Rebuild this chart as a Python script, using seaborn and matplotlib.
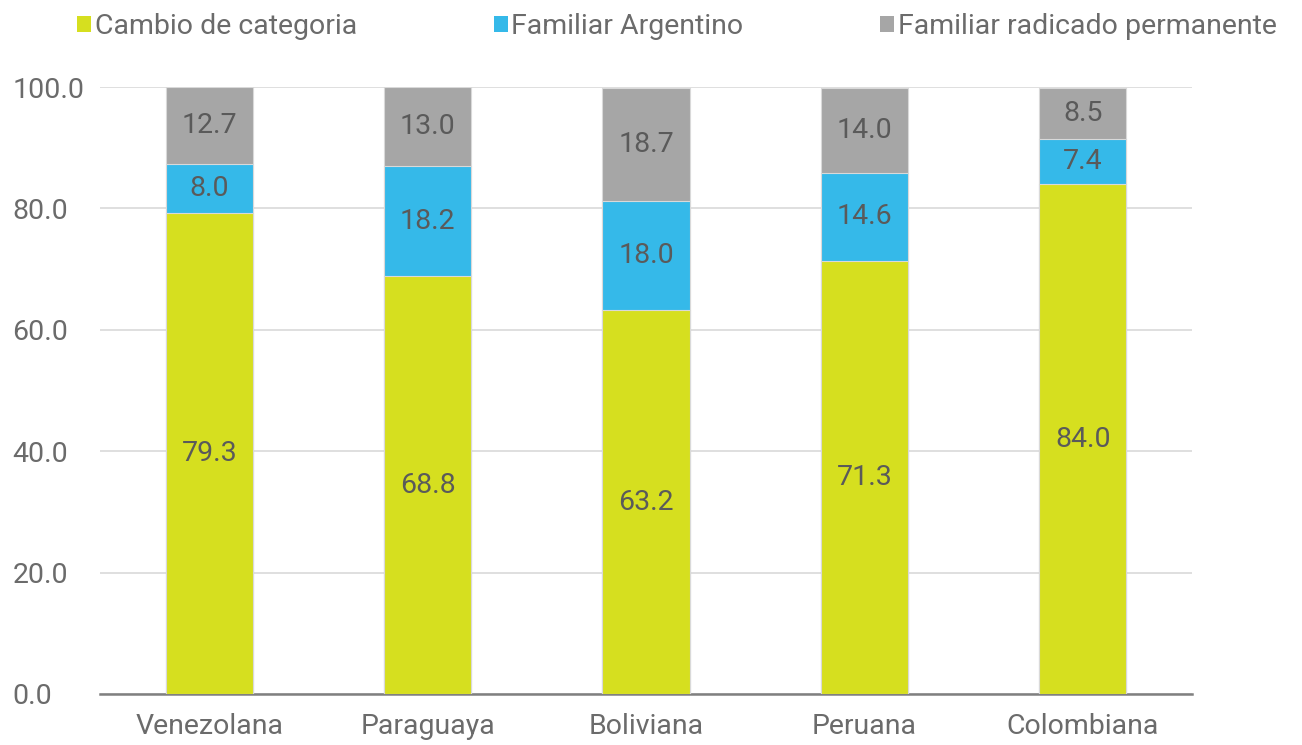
import matplotlib
matplotlib.use("Agg")
import matplotlib.pyplot as plt
import numpy as np
import pandas as pd
import seaborn as sns
from matplotlib.patches import Patch

categories = ["Venezolana", "Paraguaya", "Boliviana", "Peruana", "Colombiana"]
cambio = [79.3, 68.8, 63.2, 71.3, 84.0]
familiar_arg = [8.0, 18.2, 18.0, 14.6, 7.4]
familiar_rad = [12.7, 13.0, 18.7, 14.0, 8.5]

series_names = ["Cambio de categoria", "Familiar Argentino", "Familiar radicado permanente"]
colors = ["#d6df1f", "#35b9e9", "#a6a6a6"]

df = pd.DataFrame({
    "nacionalidad": categories,
    series_names[0]: cambio,
    series_names[1]: familiar_arg,
    series_names[2]: familiar_rad,
})
# cumulative tops, drawn from tallest to shortest so the layers stack
cum = df[series_names].cumsum(axis=1)

sns.set_style("white")
plt.rcParams["font.family"] = ["Roboto", "DejaVu Sans"]
FS = 20.5

fig = plt.figure(figsize=(13.02, 7.45), dpi=100)
ax = fig.add_axes([100 / 1302, 51 / 745, 1092 / 1302, 607 / 745])

for name, color in reversed(list(zip(series_names, colors))):
    top = cum[name].clip(upper=100)
    sns.barplot(x=df["nacionalidad"], y=top, color=color, width=0.4,
                edgecolor="#d9d9d9", linewidth=0.8, saturation=1, ax=ax, zorder=3)

text_color = "#5a5a5a"
for i in range(len(categories)):
    base = 0.0
    for name in series_names:
        v = df.loc[i, name]
        ax.text(i, base + v / 2, f"{v:.1f}", ha="center", va="center",
                fontsize=FS, color=text_color, zorder=5)
        base += v

ax.set_ylim(0, 100)
ax.set_xlim(-0.5, len(categories) - 0.5)
yt = np.arange(0, 101, 20)
ax.set_yticks(yt)
ax.set_yticklabels([f"{t:.1f}" for t in yt], ha="left")
ax.yaxis.grid(True, color="#d9d9d9", linewidth=1.2, zorder=0)
ax.set_axisbelow(True)
ax.set_xlabel("")
ax.set_ylabel("")
for s in ["top", "right", "left"]:
    ax.spines[s].set_visible(False)
ax.spines["bottom"].set_color("#808080")
ax.spines["bottom"].set_linewidth(1.8)

ax.tick_params(axis="y", length=0, labelsize=FS, labelcolor="#6b6b6b", pad=63)
ax.set_xticks(np.arange(len(categories)))
ax.set_xticklabels(categories)
ax.tick_params(axis="x", length=0, labelsize=FS, labelcolor="#6b6b6b", pad=14)
ax.set_xticks(np.arange(-0.5, len(categories)), minor=True)
ax.tick_params(axis="x", which="minor", length=6, width=1.8, color="#808080", direction="out")

handles = [Patch(facecolor=c, edgecolor="none") for c in colors]
fig.legend(handles, series_names, loc="upper left", bbox_to_anchor=(60 / 1302, 1.005),
           ncol=3, frameon=False, fontsize=FS, handlelength=0.5, handleheight=0.5,
           handletextpad=0.12, columnspacing=4.8, labelcolor="#6b6b6b",
           borderaxespad=0.2)

fig.savefig("out.png", dpi=100)
